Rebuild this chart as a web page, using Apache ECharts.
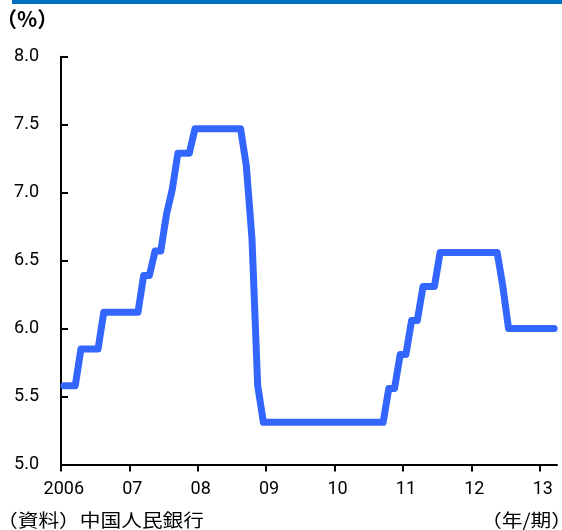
<!DOCTYPE html>
<html>
<head>
<meta charset="utf-8">
<script src="https://cdn.jsdelivr.net/npm/echarts@6/dist/echarts.min.js"></script>
<style>
  html, body { margin: 0; padding: 0; background: #fff; }
  #chart { width: 562px; height: 530px; }
</style>
</head>
<body>
<div id="chart"></div>
<script>
// PBoC 1-year lending rate, month-end values, Jan 2006 – Mar 2013 (%)
const rates2006 = [5.58, 5.58, 5.58, 5.85, 5.85, 5.85, 5.85, 6.12, 6.12, 6.12, 6.12, 6.12];
const rates2007 = [6.12, 6.12, 6.39, 6.39, 6.57, 6.57, 6.84, 7.02, 7.29, 7.29, 7.29, 7.47];
const rates2008 = [7.47, 7.47, 7.47, 7.47, 7.47, 7.47, 7.47, 7.47, 7.20, 6.66, 5.58, 5.31];
const rates2009 = [5.31, 5.31, 5.31, 5.31, 5.31, 5.31, 5.31, 5.31, 5.31, 5.31, 5.31, 5.31];
const rates2010 = [5.31, 5.31, 5.31, 5.31, 5.31, 5.31, 5.31, 5.31, 5.31, 5.56, 5.56, 5.81];
const rates2011 = [5.81, 6.06, 6.06, 6.31, 6.31, 6.31, 6.56, 6.56, 6.56, 6.56, 6.56, 6.56];
const rates2012 = [6.56, 6.56, 6.56, 6.56, 6.56, 6.31, 6.00, 6.00, 6.00, 6.00, 6.00, 6.00];
const rates2013 = [6.00, 6.00, 6.00];

const yearLabels = ['2006', '07', '08', '09', '10', '11', '12', '13'];
const yTicks = [5.0, 5.5, 6.0, 6.5, 7.0, 7.5, 8.0];

const rates = [].concat(rates2006, rates2007, rates2008, rates2009,
                        rates2010, rates2011, rates2012, rates2013);

// x is measured in months from Jan 2006; each value sits in the middle of its month
const monthCount = 87;
const lineData = rates.map((v, i) => [i + 0.5, v]);
const yearStarts = yearLabels.map((_, k) => k * 12);
const yearMids = yearLabels.map((_, k) => k * 12 + 0.5);

const numFont = 'Roboto, "Noto Sans", sans-serif';
const jpFont = '"Noto Sans CJK JP", sans-serif';

const chart = echarts.init(document.getElementById('chart'), null, { renderer: 'canvas' });
chart.setOption({
  animation: false,
  backgroundColor: '#ffffff',
  grid: { left: 61, right: 5, top: 56.7, bottom: 65.5, containLabel: false },
  xAxis: {
    type: 'value',
    min: 0,
    max: monthCount,
    splitLine: { show: false },
    axisLine: { show: true, onZero: false, lineStyle: { color: '#000', width: 2 } },
    axisTick: {
      show: true, inside: false, length: 7,
      customValues: yearStarts,
      lineStyle: { color: '#000', width: 2 }
    },
    axisLabel: {
      customValues: yearMids,
      formatter: v => yearLabels[Math.floor(v / 12)],
      color: '#000', fontSize: 18, fontFamily: numFont, margin: 16
    }
  },
  yAxis: {
    type: 'value',
    min: yTicks[0],
    max: yTicks[yTicks.length - 1],
    interval: 0.5,
    splitLine: { show: false },
    axisLine: { show: true, lineStyle: { color: '#000', width: 2 } },
    axisTick: { show: true, inside: true, length: 7, lineStyle: { color: '#000', width: 2 } },
    axisLabel: {
      formatter: v => v.toFixed(1),
      color: '#000', fontSize: 18, fontFamily: numFont, margin: 22
    }
  },
  series: [{
    type: 'line',
    data: lineData,
    showSymbol: false,
    symbol: 'none',
    lineStyle: { color: '#3366FF', width: 7, cap: 'round', join: 'round' },
    z: 1
  }],
  graphic: [
    { type: 'rect', x: 12, y: 0, shape: { width: 550, height: 4 }, style: { fill: '#0070C0' } },
    {
      type: 'text', x: -4, y: 19.5,
      style: { text: '（%）', font: 'bold 21px ' + jpFont, fill: '#000', textVerticalAlign: 'middle' }
    },
    {
      type: 'text', x: -3, y: 520, scaleX: 1.15,
      style: { text: '（資料）中国人民銀行', font: '18px ' + jpFont, fill: '#000', textVerticalAlign: 'middle' }
    },
    {
      type: 'text', x: 572, y: 520, scaleX: 1.15,
      style: { text: '（年/期）', font: '18px ' + jpFont, fill: '#000', textAlign: 'right', textVerticalAlign: 'middle' }
    }
  ]
});
</script>
</body>
</html>
